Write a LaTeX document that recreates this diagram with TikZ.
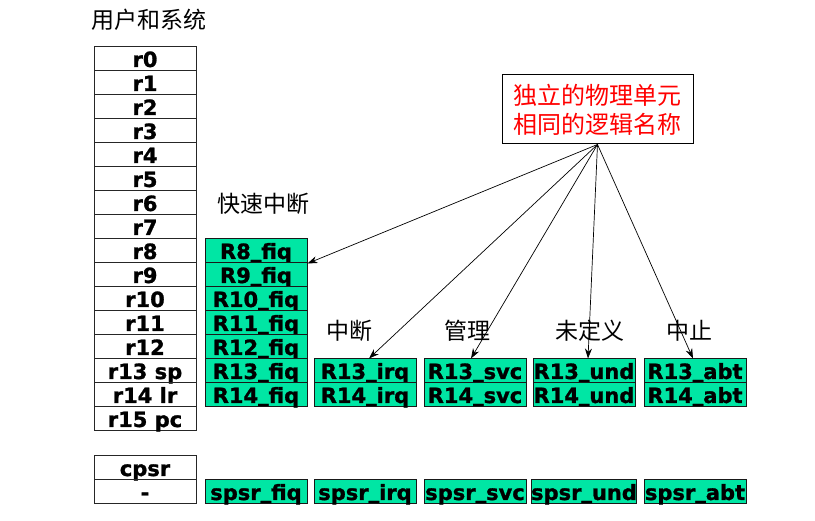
\documentclass[tikz,border=0pt]{standalone}
\usepackage{fontspec}
\newfontfamily\regfont{DejaVu Sans}[BoldFeatures={FakeBold=1.2}]
\newfontfamily\cjk{Noto Sans CJK SC}
\usetikzlibrary{positioning,arrows.meta}
\definecolor{bankgreen}{RGB}{0,230,164}
\newcommand\usc{\raisebox{2pt}{\_}}
\tikzset{reg/.style={draw=black!85,line width=1pt,minimum width=102pt,minimum height=24pt,inner sep=0pt,
  text height=18pt,text depth=2pt,font=\regfont\bfseries\fontsize{21}{22}\selectfont},
  banked/.style={reg,fill=bankgreen,draw=black!90},
  mode/.style={font=\cjk\fontsize{23}{24}\selectfont,inner sep=0pt},
  link/.style={-{Stealth[length=10pt,width=7pt]},line width=0.7pt}}
\begin{document}
\begin{tikzpicture}[x=1pt,y=-1pt]
\useasboundingbox (0,0) rectangle (815,521);
\node[mode] (user) at (149,20) {用户和系统};
% user registers
\node[reg] (r0) at (145,59) {r0};\node[reg] (r1) at (145,83) {r1};
\node[reg] (r2) at (145,107) {r2};\node[reg] (r3) at (145,131) {r3};
\node[reg] (r4) at (145,155) {r4};\node[reg] (r5) at (145,179) {r5};
\node[reg] (r6) at (145,203) {r6};\node[reg] (r7) at (145,227) {r7};
\node[reg] (r8) at (145,251) {r8};\node[reg] (r9) at (145,275) {r9};
\node[reg] (r10) at (145,299) {r10};\node[reg] (r11) at (145,323) {r11};
\node[reg] (r12) at (145,347) {r12};\node[reg] (r13) at (145,371) {r13 sp};
\node[reg] (r14) at (145,395) {r14 lr};\node[reg] (r15) at (145,419) {r15 pc};
\node[reg] (cpsr) at (145,468) {cpsr};\node[reg] (none) at (145,492) {-};
% banked registers
\node[mode] at (263,204) {快速中断};
\node[banked] (fiq8) at (256,251) {R8\usc fiq};\node[banked] (fiq9) at (256,275) {R9\usc fiq};
\node[banked] (fiq10) at (256,299) {R10\usc fiq};\node[banked] (fiq11) at (256,323) {R11\usc fiq};
\node[banked] (fiq12) at (256,347) {R12\usc fiq};\node[banked] (fiq13) at (256,371) {R13\usc fiq};
\node[banked] (fiq14) at (256,395) {R14\usc fiq};\node[banked] (spfiq) at (256,492) {spsr\usc fiq};
\node[mode] at (349,331) {中断};
\node[banked] (irq13) at (365,371) {R13\usc irq};\node[banked] (irq14) at (365,395) {R14\usc irq};
\node[banked] (spirq) at (365,492) {spsr\usc irq};
\node[mode] at (467,331) {管理};
\node[banked] (svc13) at (475,371) {R13\usc svc};\node[banked] (svc14) at (475,395) {R14\usc svc};
\node[banked] (spsvc) at (475,492) {spsr\usc svc};
\node[mode] at (590,331) {未定义};
\node[banked] (und13) at (584,371) {R13\usc und};\node[banked] (und14) at (584,395) {R14\usc und};
\node[banked] (spund) at (584,492) {spsr\usc und};
\node[mode] at (689,331) {中止};
\node[banked] (abt13) at (695,371) {R13\usc abt};\node[banked] (abt14) at (695,395) {R14\usc abt};
\node[banked] (spabt) at (695,492) {spsr\usc abt};
% note
\node[draw,line width=1pt,minimum width=191pt,minimum height=69pt,align=center,text=red,
  font=\cjk\fontsize{24}{29}\selectfont] (note) at (597.5,109.5) {独立的物理单元\\相同的逻辑名称};
\draw[link] (note.south) -- (fiq8.south east);
\draw[link] (note.south) -- ([xshift=4pt]irq13.north);
\draw[link] (note.south) -- ([xshift=-4pt]svc13.north);
\draw[link] (note.south) -- ([xshift=4pt]und13.north);
\draw[link] (note.south) -- ([xshift=-2pt]abt13.north);
\end{tikzpicture}
\end{document}
